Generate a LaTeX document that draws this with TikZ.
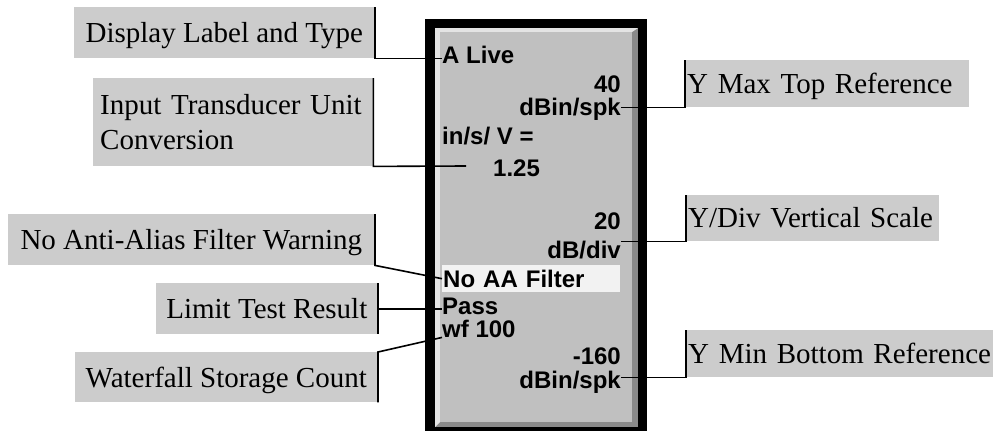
\documentclass[tikz,border=0pt]{standalone}
\usepackage{fontspec}
\newfontfamily\lblfont{Liberation Serif}
\newfontfamily\panelfont{Liberation Sans}
\definecolor{lblgray}{HTML}{CCCCCC}
\definecolor{facegray}{HTML}{C0C0C0}
\definecolor{hilite}{HTML}{F2F2F2}
\definecolor{bevlight}{HTML}{E4E4E4}
\definecolor{bevdark}{HTML}{8A8A8A}
\begin{document}
\begin{tikzpicture}[x=1pt,y=-1pt,
	lbl/.style={fill=lblgray,inner ysep=0pt,text height=35pt,text depth=16pt,font=\lblfont\fontsize{29}{35}\selectfont},
	lblL/.style={lbl,inner xsep=0pt,anchor=north east},
	lblR/.style={lbl,align=left,inner xsep=2pt,anchor=north west,text height=33pt,text depth=14pt},
	ptxt/.style={inner sep=0pt,font=\panelfont\bfseries\fontsize{24}{24}\selectfont},
	pin/.style={line width=1.6pt}]
		\useasboundingbox (0,0) rectangle (996,431);
		% display panel
		\fill[black] (425,19) rectangle (647,431);
		\fill[bevdark] (435,28) rectangle (638,427);
		\fill[bevlight] (435,28) -- (638,28) -- (632,32) -- (440,32) -- (440,422) -- (435,427) -- cycle;
		\fill[facegray] (440,32) rectangle (632,422);
		\node[ptxt,anchor=base west] (alive) at (442,63) {A Live};
		\node[ptxt,anchor=base east] (top) at (621,92) {40};
		\node[ptxt,anchor=base east] (dbtop) at (621,115) {dBin/spk};
		\node[ptxt,anchor=base west] (ivs) at (442,144) {in/s/ V =};
		\node[ptxt,anchor=base west] (conv) at (493,176) {1.25};
		\node[ptxt,anchor=base east] (div) at (621,229) {20};
		\node[ptxt,anchor=base east] (dbdiv) at (621,258) {dB/div};
		\node[ptxt,fill=hilite,anchor=north west,text width=176pt,inner xsep=1pt,text height=22pt,text depth=5pt] (nofilt) at (442,265) {No AA Filter};
		\node[ptxt,anchor=base west] (pass) at (442,314) {Pass};
		\node[ptxt,anchor=base west] (wf) at (442,337) {wf 100};
		\node[ptxt,anchor=base east] (bot) at (621,364) {-160};
		\node[ptxt,anchor=base east] (dbbot) at (621,388) {dBin/spk};
		% callouts
		\node[lblL,minimum width=301pt] (disp) at (375,7) {Display Label and Type};
		\node[fill=lblgray,inner xsep=7pt,inner ysep=0pt,text width=266pt,align=left,minimum height=88pt,anchor=north west,font=\lblfont\fontsize{29}{35}\selectfont] (inp) at (93,78) {Input Transducer Unit\\Conversion};
		\node[lblL,minimum width=367pt] (noaa) at (375,214) {No Anti-Alias Filter Warning};
		\node[lblL,minimum width=222pt] (lim) at (378,283) {Limit Test Result};
		\node[lblL,minimum width=303pt,text depth=15pt] (wfc) at (378,352) {Waterfall Storage Count};
		\node[lblR,text width=280pt] (ymax) at (685,60) {Y Max Top Reference};
		\node[lblR,text width=249pt,text height=32pt] (ydiv) at (686,195) {Y/Div Vertical Scale};
		\node[lblR,text width=303pt] (ymin) at (686,330) {Y Min Bottom Reference};
		\coordinate (inpend) at (466,166);
		\draw[pin] (disp.north east) -- (disp.south east) -- (disp.south east -| alive.west);
		\draw[pin] (inp.north east) -- (inp.south east) -- (inpend);
		\draw[pin] (noaa.north east) -- (noaa.south east) -- (nofilt.west);
		\draw[pin] (lim.north east) -- (lim.south east);
		\draw[pin] (lim.east) -- (lim.east -| pass.west);
		\draw[pin] (wfc.south east) -- (wfc.north east) -- (wf.south west);
		\draw[pin] (ymax.north west) -- (ymax.south west) -- (ymax.south west -| dbtop.east);
		\draw[pin] (ydiv.north west) -- (ydiv.south west) -- (ydiv.south west -| dbdiv.east);
		\draw[pin] (ymin.north west) -- (ymin.south west) -- (ymin.south west -| dbbot.east);
	\end{tikzpicture}
\end{document}
